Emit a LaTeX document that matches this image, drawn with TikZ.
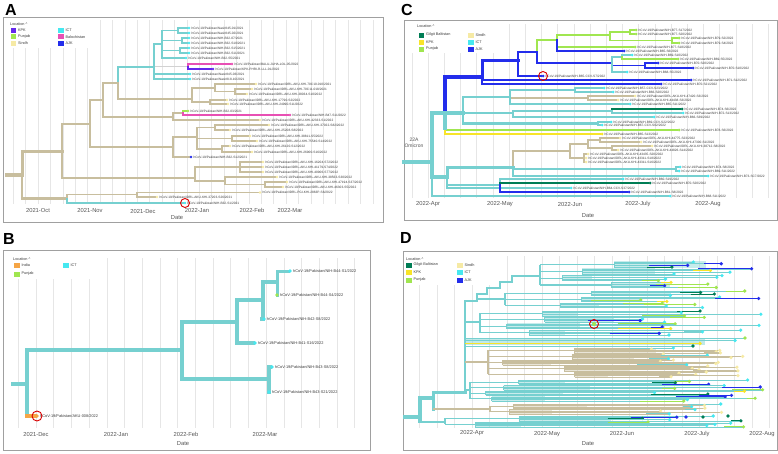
\documentclass[tikz,border=0pt]{standalone}
\usepackage{fontspec}
\setmainfont{Liberation Sans}
\definecolor{tanb}{RGB}{200,190,158}
\definecolor{sindh}{RGB}{246,234,165}
\definecolor{ictb}{RGB}{118,208,208}
\definecolor{ict}{RGB}{70,232,240}
\definecolor{kpkA}{RGB}{100,40,235}
\definecolor{pun}{RGB}{160,230,80}
\definecolor{balo}{RGB}{232,80,180}
\definecolor{ajk}{RGB}{35,45,235}
\definecolor{gb}{RGB}{0,125,85}
\definecolor{kpk}{RGB}{248,228,40}
\definecolor{india}{RGB}{245,165,70}
\definecolor{frameg}{RGB}{160,160,160}
\definecolor{gridg}{RGB}{230,230,230}
\definecolor{dateg}{RGB}{85,85,85}
\definecolor{labelg}{RGB}{60,60,60}
\colorlet{ictL}{ictb}\colorlet{sindhL}{tanb}\colorlet{ajkL}{ajk}
\colorlet{punL}{pun}\colorlet{kpkL}{kpk}\colorlet{gbL}{gb}
\pgfdeclarelayer{gridl}
\pgfdeclarelayer{edges}
\pgfsetlayers{gridl,edges,main}
\newcommand\tip[6]{\node[#1,fill=#5,label={[lbl#1]right:{#6}}] (#2) at (#3,#4) {};}
\newcommand\br[4]{\draw[edge,draw=#1,line width=#2pt] (#3) |- (#4);}
\newcommand\leg[5]{\node[legsq,fill=#4] (#1) at (#2,#3) {}; \node[legtxt] (#1t) at ([xshift=1.5pt]#1.east) {#5};}
\pgfmathdeclarerandomlist{dup}{{ict}{ict}{ict}{ict}{ajk}{ajk}{pun}{pun}{gb}{kpk}}
\pgfmathdeclarerandomlist{dtan}{{sindh}{sindh}{sindh}{sindh}{sindh}{ict}}
\pgfmathdeclarerandomlist{dlow}{{ict}{ict}{ict}{pun}{pun}{kpk}{gb}{ajk}}
\newcommand\dgroup[7]{%
  \pgfmathsetmacro\gfirst{#2+(#4-1)*#5/2}%
  \pgfmathsetmacro\glast{#2+(#3-1)*#4*#5+(#4-1)*#5/2}%
  \draw[draw=#7, line width=1.4pt] (#1,\gfirst) -- (#1,\glast);
  \foreach \k in {1,...,#3}{%
    \pgfmathsetmacro\ya{#2+(\k-1)*#4*#5}%
    \pgfmathsetmacro\yb{\ya+(#4-1)*#5}%
    \pgfmathsetmacro\ym{(\ya+\yb)/2}%
    \pgfmathsetmacro\xa{\gxa+rnd*\gxs}%
    \pgfmathsetmacro\xc{\xa+25+rnd*70}%
    \draw[draw=#7, line width=1.1pt] (#1,\ym) -- (\xa,\ym);
    \draw[draw=#7, opacity=0.4, line width=#4*#5*0.9pt] (\xa,\ym) -- (\xc,\ym);
    \draw[draw=#7, line width=0.8pt] (\xa,\ya) -- (\xa,\yb);
    \foreach \j in {1,...,#4}{%
      \pgfmathsetmacro\yy{\ya+(\j-1)*#5}%
      \pgfmathsetmacro\xb{\gta+rnd*\gts}%
      \pgfmathsetmacro\xd{max(\xa,\xb-8-rnd*50)}%
      \pgfmathrandomitem{\cc}{#6}%
      \edef\lc{\cc L}%
      \draw[draw=#7, line width=0.6pt] (\xa,\yy) -- (\xb,\yy);
      \draw[draw=\lc, line width=0.7pt] (\xd,\yy) -- (\xb,\yy);
      \fill[fill=\cc] (\xb,\yy) circle[radius=1.8pt];
    }%
  }%
}
\begin{document}
\begin{tikzpicture}[x=1pt,y=-1pt,
  edge/.style={line cap=rect},
  frame/.style={draw=frameg,line width=0.9pt},
  gridln/.style={draw=gridg,line width=0.5pt},
  letter/.style={font=\fontsize{16}{16}\selectfont\bfseries},
  datel/.style={font=\fontsize{5.8}{6}\selectfont,text=dateg},
  legsq/.style={rectangle,minimum width=5.5pt,minimum height=5pt,inner sep=0pt},
  legtxt/.style={font=\fontsize{3.8}{4}\selectfont,text=labelg,anchor=west,inner sep=0pt},
  tipdot/.style={circle,inner sep=0pt,draw=none},
  tipA/.style={tipdot,minimum size=2.6pt},
  tipB/.style={tipdot,minimum size=3.6pt},
  tipC/.style={tipdot,minimum size=3pt},
  lbltipA/.style={font=\fontsize{3.2}{3.5}\selectfont,text=labelg,inner sep=0.8pt},
  lbltipB/.style={font=\fontsize{3.9}{4.2}\selectfont,text=labelg,inner sep=1pt},
  lbltipC/.style={font=\fontsize{3.2}{3.5}\selectfont,text=labelg,inner sep=0.8pt},
  redring/.style={circle,draw=red!85!black,line width=0.9pt,minimum size=9pt,inner sep=0pt}]
\useasboundingbox (0,0) rectangle (778,453);
\begin{pgfonlayer}{gridl}
\fill[white] (0,0) rectangle (778,453);
\end{pgfonlayer}

%================ PANEL A ================
\node[letter] (LA) at (11,10) {A};
\begin{pgfonlayer}{gridl}
  \foreach \i in {0,...,29} {\draw[gridln] ({13.2+12.4*\i},20) -- ({13.2+12.4*\i},204);}
  \fill[white] (8,20) rectangle (100,48);
  \draw[frame] (3,17) rectangle (383,222);
\end{pgfonlayer}
\node[legtxt] (locA) at (10,24) {Location \textasciicircum};
\leg{lgA1}{13.5}{30.5}{kpkA}{KPK}
\leg{lgA2}{13.5}{36.8}{pun}{Punjab}
\leg{lgA3}{13.5}{43}{sindh}{Sindh}
\leg{lgA4}{61}{30.5}{ict}{ICT}
\leg{lgA5}{61}{36.8}{balo}{Balochistan}
\leg{lgA6}{61}{43}{ajk}{AJK}
\node[datel] (dA1) at (38,210) {2021-Oct};
\node[datel] (dA2) at (90,210) {2021-Nov};
\node[datel] (dA3) at (143,211) {2021-Dec};
\node[datel] (dA4) at (197,210) {2022-Jan};
\node[datel] (dA5) at (252,210) {2022-Feb};
\node[datel] (dA6) at (290,210) {2022-Mar};
\node[datel] (dA7) at (177,218) {Date};

\coordinate (aS) at (7,175);
\coordinate (A0) at (22,175);
\coordinate (A1) at (62,151);
\coordinate (A2) at (67,198.5);
\coordinate (A3) at (90,124);
\coordinate (A4) at (195,178);
\coordinate (A5) at (103,100);
\coordinate (A6) at (173,147);
\coordinate (A7) at (118,83);
\coordinate (A8) at (173,117);
\coordinate (A9) at (154,67);
\coordinate (A10) at (192,99);
\coordinate (A11) at (162,44);
\coordinate (A12) at (188,66.5);
\coordinate (A13) at (178,30.5);
\coordinate (A14) at (182,40.5);
\coordinate (A15) at (180,50.5);
\coordinate (A16) at (215,88);
\coordinate (A17) at (235,91.5);
\coordinate (A18) at (210,102);
\coordinate (A19) at (183,113);
\coordinate (A20) at (197,137);
\coordinate (A21) at (215,127.5);
\coordinate (A22) at (232,138.5);
\coordinate (A23) at (222,149);
\coordinate (A24) at (240,167);
\coordinate (A25) at (225,181);
\coordinate (A26) at (265,184.5);
\coordinate (A27) at (137,194.5);

\tip{tipA}{a28}{189}{28}{ict}{hCoV-19/Pakistan/Nasir845-01/2021}
\tip{tipA}{a33}{189}{33}{ict}{hCoV-19/Pakistan/Nasir845-02/2021}
\tip{tipA}{a38}{189}{38}{ict}{hCoV-19/Pakistan/NIH-B32-07/2021}
\tip{tipA}{a43}{189}{43}{ict}{hCoV-19/Pakistan/NIH-B32-S10/2021}
\tip{tipA}{a48}{189}{48}{ict}{hCoV-19/Pakistan/NIH-B32-S15/2021}
\tip{tipA}{a53}{189}{53}{ict}{hCoV-19/Pakistan/NIH-B32-S11/2021}
\tip{tipA}{a58}{186}{58}{ict}{hCoV-19/Pakistan/NIH-B32-S5/2021}
\tip{tipA}{a64}{232}{64}{balo}{hCoV-19/Pakistan/BALU-JUHA-LOL-05/2022}
\tip{tipA}{a69}{213}{69}{kpkA}{hCoV-19/Pakistan/KPK-PHRI-R-LLL-01/2022}
\tip{tipA}{a74}{190}{74}{ict}{hCoV-19/Pakistan/Nasir845-03/2021}
\tip{tipA}{a79}{190}{79}{ict}{hCoV-19/Pakistan/Nasir818-10/2021}
\tip{tipA}{a84}{256}{84}{sindh}{hCoV-19/Pakistan/IDRL-AKU-KHI-70C10-010/2021}
\tip{tipA}{a89}{252}{89}{sindh}{hCoV-19/Pakistan/IDRL-AKU-KHI-70C11-018/2021}
\tip{tipA}{a94}{247}{94}{sindh}{hCoV-19/Pakistan/IDRL-AKU-KHI-38034-S10/2022}
\tip{tipA}{a100}{227}{100}{sindh}{hCoV-19/Pakistan/IDRL-AKU-KHI-17790-S2/2022}
\tip{tipA}{a104}{228}{104}{sindh}{hCoV-19/Pakistan/IDRL-AKU-KHI-24990-S11/2022}
\tip{tipA}{a111}{188}{111}{pun}{hCoV-19/Pakistan/NIH-B32-03/2021}
\tip{tipA}{a115}{290}{115}{balo}{hCoV-19/Pakistan/NIH-B47-S11/2022}
\tip{tipA}{a120}{260}{120}{sindh}{hCoV-19/Pakistan/IDRL-AKU-KHI-42333-S1/2022}
\tip{tipA}{a125}{269}{125}{sindh}{hCoV-19/Pakistan/IDRL-AKU-KHI-37022-S82/2022}
\tip{tipA}{a130}{230}{130}{sindh}{hCoV-19/Pakistan/IDRL-AKU-KHI-25208-S8/2022}
\tip{tipA}{a136}{250}{136}{sindh}{hCoV-19/Pakistan/IDRL-AKU-KHI-38811-S5/2022}
\tip{tipA}{a141}{257}{141}{sindh}{hCoV-19/Pakistan/IDRL-AKU-KHI-75540-S14/2022}
\tip{tipA}{a146}{230}{146}{sindh}{hCoV-19/Pakistan/IDRL-AKU-KHI-26120-S12/2022}
\tip{tipA}{a152}{252}{152}{sindh}{hCoV-19/Pakistan/IDRL-AKU-KHI-26900-S16/2022}
\tip{tipA}{a157}{191}{157}{ajk}{hCoV-19/Pakistan/NIH-B32-S12/2021}
\tip{tipA}{a162}{263}{162}{sindh}{hCoV-19/Pakistan/IDRL-AKU-KHI-16204-S72/2022}
\tip{tipA}{a167}{263}{167}{sindh}{hCoV-19/Pakistan/IDRL-AKU-KHI-41179-S74/2022}
\tip{tipA}{a172}{263}{172}{sindh}{hCoV-19/Pakistan/IDRL-AKU-KHI-40906-S77/2022}
\tip{tipA}{a177}{277}{177}{sindh}{hCoV-19/Pakistan/IDRL-AKU-KHI-38563-S30/2022}
\tip{tipA}{a182}{287}{182}{sindh}{hCoV-19/Pakistan/IDRL-AKU-KHI-47194-S37/2022}
\tip{tipA}{a187}{283}{187}{sindh}{hCoV-19/Pakistan/IDRL-AKU-KHI-46303-S5/2022}
\tip{tipA}{a193}{260}{192.5}{sindh}{hCoV-19/Pakistan/IDRL-PGI-KHI-2863P-S6/2022}
\tip{tipA}{a197}{157}{197}{sindh}{hCoV-19/Pakistan/IDRL-AKU-KHI-37203-S26/2021}
\tip{tipA}{a203}{185}{203}{ict}{hCoV-19/Pakistan/NIH-B32-S1/2021}
\node[redring] (ringA) at (a203) {};

\begin{pgfonlayer}{edges}
\draw[edge,draw=tanb,line width=3.2pt] (aS) -- (A0);
\br{tanb}{3}{A0}{A1}
\br{tanb}{2.6}{A0}{A2}
\br{tanb}{2.6}{A1}{A3}
\br{tanb}{2.3}{A1}{A4}
\br{tanb}{2.3}{A3}{A5}
\br{tanb}{2.1}{A3}{A6}
\br{tanb}{2}{A5}{A7}
\br{tanb}{1.8}{A5}{A8}
\br{ictb}{2}{A7}{A9}
\br{tanb}{1.8}{A7}{A10}
\br{ictb}{1.8}{A9}{A11}
\br{gray!35}{1.4}{A9}{A12}
\br{ictb}{1.2}{A9}{a74}
\br{ictb}{1.2}{A9}{a79}
\br{ictb}{1.5}{A11}{A13}
\br{ictb}{1.5}{A11}{A14}
\br{ictb}{1.5}{A11}{A15}
\br{ictb}{1.2}{A11}{a58}
\br{ictb}{1.2}{A13}{a28}
\br{ictb}{1.2}{A13}{a33}
\br{ictb}{1.2}{A14}{a38}
\br{ictb}{1.2}{A14}{a43}
\br{ictb}{1.2}{A15}{a48}
\br{ictb}{1.2}{A15}{a53}
\br{balo}{1.4}{A12}{a64}
\br{kpkA}{1.4}{A12}{a69}
\br{tanb}{1.6}{A10}{A16}
\br{tanb}{1.6}{A10}{A18}
\br{tanb}{1.2}{A16}{a84}
\br{tanb}{1.4}{A16}{A17}
\br{tanb}{1.2}{A17}{a89}
\br{tanb}{1.2}{A17}{a94}
\br{tanb}{1.2}{A18}{a100}
\br{tanb}{1.2}{A18}{a104}
\br{tanb}{1.5}{A8}{A19}
\br{tanb}{1.2}{A8}{a120}
\br{pun}{1.2}{A19}{a111}
\br{balo}{1.4}{A19}{a115}
\br{tanb}{1.8}{A6}{A20}
\br{tanb}{1.2}{A6}{a157}
\br{tanb}{1.5}{A20}{A21}
\br{tanb}{1.5}{A20}{A22}
\br{tanb}{1.5}{A20}{A23}
\br{tanb}{1.2}{A21}{a125}
\br{tanb}{1.2}{A21}{a130}
\br{tanb}{1.2}{A22}{a136}
\br{tanb}{1.2}{A22}{a141}
\br{tanb}{1.2}{A23}{a146}
\br{tanb}{1.2}{A23}{a152}
\br{tanb}{1.6}{A4}{A24}
\br{tanb}{1.6}{A4}{A25}
\br{tanb}{1.2}{A24}{a162}
\br{tanb}{1.2}{A24}{a167}
\br{tanb}{1.2}{A24}{a172}
\br{tanb}{1.2}{A25}{a177}
\br{tanb}{1.4}{A25}{A26}
\br{tanb}{1.2}{A26}{a182}
\br{tanb}{1.2}{A26}{a187}
\br{tanb}{1.8}{A2}{A27}
\br{ictb}{1.8}{A2}{a203}
\br{tanb}{1.2}{A27}{a193}
\br{tanb}{1.2}{A27}{a197}
\end{pgfonlayer}

%================ PANEL B ================
\node[letter] (LB) at (9,239) {B};
\begin{pgfonlayer}{gridl}
  \foreach \i in {0,...,19} {\draw[gridln] ({18.3+17.7*\i},258) -- ({18.3+17.7*\i},428);}
  \fill[white] (10,254) rectangle (90,279);
  \draw[frame] (3,250) rectangle (370,450);
\end{pgfonlayer}
\node[legtxt] (locB) at (13,259) {Location \textasciicircum};
\leg{lgB1}{17}{265}{india}{India}
\leg{lgB2}{17}{274}{pun}{Punjab}
\leg{lgB3}{66}{265}{ict}{ICT}
\node[datel] (dB1) at (36,434) {2021-Dec};
\node[datel] (dB2) at (116,434) {2022-Jan};
\node[datel] (dB3) at (186,434) {2022-Feb};
\node[datel] (dB4) at (265,434) {2022-Mar};
\node[datel] (dB5) at (183,444) {Date};

\coordinate (bS) at (13,384);
\coordinate (B0) at (27,384);
\coordinate (B0b) at (27,416);
\coordinate (B1) at (182,350);
\coordinate (B2) at (237,322);
\coordinate (B3) at (269,379);
\coordinate (B4) at (263,300);
\coordinate (B5) at (277,282);
\tip{tipB}{b271}{290}{271}{ict}{hCoV-19/Pakistan/NIH-B44-S1/2022}
\tip{tipB}{b295}{277}{295}{pun}{hCoV-19/Pakistan/NIH-B44-S4/2022}
\tip{tipB}{b319}{264}{319}{ict}{hCoV-19/Pakistan/NIH-B42-S8/2022}
\tip{tipB}{b343}{255}{343}{ict}{hCoV-19/Pakistan/NIH-B41-S16/2022}
\tip{tipB}{b367}{272}{367}{ict}{hCoV-19/Pakistan/NIH-B43-S8/2022}
\tip{tipB}{b392}{269}{392}{ict}{hCoV-19/Pakistan/NIH-B43-S21/2022}
\tip{tipB}{b416}{37}{416}{india}{hCoV-19/Pakistan/AKU-008/2022}
\node[redring,minimum size=10pt] (ringB) at (b416) {};
\begin{pgfonlayer}{edges}
\draw[edge,draw=ictb,line width=4.5pt] (bS) -- (B0);
\br{ictb}{4.5}{B0}{B1}
\draw[edge,draw=ictb,line width=3.6pt] (B0) -- (B0b);
\draw[edge,draw=india,line width=3.2pt] (B0b) -- (b416);
\br{ictb}{4.2}{B1}{B2}
\br{ictb}{4.2}{B1}{B3}
\br{ictb}{3.8}{B2}{B4}
\br{ictb}{3.4}{B2}{b343}
\br{ictb}{3.4}{B4}{B5}
\br{ictb}{3.2}{B4}{b319}
\br{ictb}{3}{B5}{b271}
\br{ictb}{3}{B5}{b295}
\br{ictb}{3.2}{B3}{b367}
\br{ictb}{3.2}{B3}{b392}
\end{pgfonlayer}

%================ PANEL C ================
\node[letter] (LC) at (407,10) {C};
\begin{pgfonlayer}{gridl}
  \foreach \i in {0,...,22} {\draw[gridln] ({411.8+16.2*\i},24) -- ({411.8+16.2*\i},198);}
  \fill[white] (412,22) rectangle (505,53);
  \draw[frame] (404,20) rectangle (777,220);
\end{pgfonlayer}
\node[legtxt] (locC) at (417,26) {Location \textasciicircum};
\leg{lgC1}{421.5}{35}{gb}{Gilgit Baltistan}
\leg{lgC2}{421.5}{42}{kpk}{KPK}
\leg{lgC3}{421.5}{49}{pun}{Punjab}
\leg{lgC4}{471}{35}{sindh}{Sindh}
\leg{lgC5}{471}{42}{ict}{ICT}
\leg{lgC6}{471}{49}{ajk}{AJK}
\node[datel] (dC1) at (428,204) {2022-Apr};
\node[datel] (dC2) at (500,204) {2022-May};
\node[datel] (dC3) at (570,204) {2022-Jun};
\node[datel] (dC4) at (638,204) {2022-July};
\node[datel] (dC5) at (708,204) {2022-Aug};
\node[datel] (dC6) at (588,216) {Date};
\node[font=\fontsize{5}{6}\selectfont,text=dateg,align=center] (omi) at (414,143) {22A\\[0.5pt]Omicron};

\coordinate (cS) at (404,162);
\coordinate (C0) at (432,162);
\coordinate (Cu) at (445,113);
\coordinate (Cl) at (447,177);
\coordinate (Cbl) at (482,77);
\coordinate (Ccy) at (463,113);
\coordinate (Cb1) at (518,60);
\coordinate (Cb2) at (537,52);
\coordinate (Ga) at (557,40);
\coordinate (Gb) at (610,35);
\coordinate (Gc) at (630,32);
\coordinate (Gd) at (672,40.5);
\coordinate (Hb) at (612,63);
\coordinate (Hc) at (622,57);
\coordinate (Hd) at (645,65.5);
\coordinate (C1) at (510,97);
\coordinate (Ca) at (575,90);
\coordinate (Ct) at (588,98);
\coordinate (C2) at (513,113);
\coordinate (Cc) at (612,111);
\coordinate (C3) at (598,123.5);
\coordinate (Cm) at (513,167);
\coordinate (T1) at (570,151);
\coordinate (T2) at (588,144);
\coordinate (T4) at (600,140);
\coordinate (T5) at (612,148);
\coordinate (T3) at (584,158);
\coordinate (Co) at (676,169);
\coordinate (Cn) at (500,185);

\tip{tipC}{c30}{636}{30}{pun}{hCoV-19/Pakistan/NIH-B77-S17/2022}
\tip{tipC}{c34}{636}{34}{pun}{hCoV-19/Pakistan/NIH-B77-S20/2022}
\tip{tipC}{c38}{679}{38}{pun}{hCoV-19/Pakistan/NIH-B79-S2/2022}
\tip{tipC}{c43}{679}{43}{pun}{hCoV-19/Pakistan/NIH-B79-S4/2022}
\tip{tipC}{c47}{635}{47}{pun}{hCoV-19/Pakistan/NIH-B77-S18/2022}
\tip{tipC}{c51}{624}{51}{ajk}{hCoV-19/Pakistan/NIH-B65-S6/2022}
\tip{tipC}{c55}{632}{55}{ict}{hCoV-19/Pakistan/NIH-B69-S10/2022}
\tip{tipC}{c59}{678}{59}{pun}{hCoV-19/Pakistan/NIH-B69-S5/2022}
\tip{tipC}{c63}{658}{63}{ajk}{hCoV-19/Pakistan/NIH-B70-S20/2022}
\tip{tipC}{c68}{693}{68}{ajk}{hCoV-19/Pakistan/NIH-B70-S10/2022}
\tip{tipC}{c72}{627}{72}{ict}{hCoV-19/Pakistan/NIH-B68-S5/2022}
\tip{tipC}{c76}{543}{76}{ajk}{hCoV-19/Pakistan/NIH-B65-CCV-S7/2022}
\tip{tipC}{c80}{691}{80}{ajk}{hCoV-19/Pakistan/NIH-B71-S12/2022}
\tip{tipC}{c84}{661}{84}{ajk}{hCoV-19/Pakistan/NIH-B70-S21/2022}
\tip{tipC}{c88}{604}{88}{ict}{hCoV-19/Pakistan/NIH-B57-CCV-S23/2022}
\tip{tipC}{c92}{613}{92}{ict}{hCoV-19/Pakistan/NIH-B66-S20/2022}
\tip{tipC}{c96}{635}{96}{sindh}{hCoV-19/Pakistan/IDRL-AKU-KHI-47420-S3/2022}
\tip{tipC}{c100}{618}{100}{sindh}{hCoV-19/Pakistan/IDRL-AKU-KHI-44438-S3/2022}
\tip{tipC}{c104}{630}{104}{ict}{hCoV-19/Pakistan/NIH-B65-S11/2022}
\tip{tipC}{c109}{682}{109}{gb}{hCoV-19/Pakistan/NIH-B74-S6/2022}
\tip{tipC}{c113}{683}{113}{ict}{hCoV-19/Pakistan/NIH-B72-S13/2022}
\tip{tipC}{c117}{654}{117}{ict}{hCoV-19/Pakistan/NIH-B66-S39/2022}
\tip{tipC}{c122}{611}{122}{ict}{hCoV-19/Pakistan/NIH-B69-CCV-S22/2022}
\tip{tipC}{c125}{602}{125}{ict}{hCoV-19/Pakistan/NIH-B67-CCV-S02/2022}
\tip{tipC}{c130}{679}{130}{pun}{hCoV-19/Pakistan/NIH-B78-S6/2022}
\tip{tipC}{c134}{602}{134}{kpk}{hCoV-19/Pakistan/NIH-B65-S13/2022}
\tip{tipC}{c138}{620}{138}{sindh}{hCoV-19/Pakistan/IDRL-AKU-KHI-44775-S23/2022}
\tip{tipC}{c142}{641}{142}{sindh}{hCoV-19/Pakistan/IDRL-AKU-KHI-47300-S1/2022}
\tip{tipC}{c146}{652}{146}{sindh}{hCoV-19/Pakistan/IDRL-AKU-KHI-38712-S8/2022}
\tip{tipC}{c150}{618}{150}{sindh}{hCoV-19/Pakistan/IDRL-AKU-KHI-44826-S14/2022}
\tip{tipC}{c154}{588}{154}{sindh}{hCoV-19/Pakistan/IDRL-AKU-KHI-43435-S20/2022}
\tip{tipC}{c158}{586}{158}{sindh}{hCoV-19/Pakistan/IDRL-AKU-KHI-43311-S18/2022}
\tip{tipC}{c162}{586}{162}{sindh}{hCoV-19/Pakistan/IDRL-AKU-KHI-43311-S16/2022}
\tip{tipC}{c167}{680}{167}{ict}{hCoV-19/Pakistan/NIH-B74-S8/2022}
\tip{tipC}{c171}{679}{171}{ict}{hCoV-19/Pakistan/NIH-B69-S11/2022}
\tip{tipC}{c176}{708}{176}{ict}{hCoV-19/Pakistan/NIH-B73-SC7/2022}
\tip{tipC}{c179}{623}{179}{ict}{hCoV-19/Pakistan/NIH-B60-S19/2022}
\tip{tipC}{c183}{650}{183}{gb}{hCoV-19/Pakistan/NIH-B70-S20/2022}
\tip{tipC}{c188}{571}{188}{ict}{hCoV-19/Pakistan/NIH-B64-CCV-S37/2022}
\tip{tipC}{c192}{629}{192}{ajk}{hCoV-19/Pakistan/NIH-B61-S8/2022}
\tip{tipC}{c196}{670}{196}{ict}{hCoV-19/Pakistan/NIH-B68-S11/2022}
\node[redring] (ringC) at (c76) {};

\begin{pgfonlayer}{edges}
\draw[edge,draw=ictb,line width=4.5pt] (cS) -- (C0);
\br{ictb}{4}{C0}{Cu}
\br{ictb}{3.6}{C0}{Cl}
\br{ictb}{2}{C0}{c196}
\br{pun}{2}{Cu}{c130}
\br{kpk}{2}{Cu}{c134}
\draw[edge,draw=ictb,line width=3.5pt] (Cu) -- (445,128);
\br{ajk}{3.5}{Cu}{Cbl}
\br{ictb}{3.2}{Cu}{Ccy}
\br{ajk}{3}{Cbl}{Cb1}
\br{ajk}{1.8}{Cbl}{c80}
\br{ajk}{1.8}{Cbl}{c84}
\br{ajk}{2.6}{Cb1}{Cb2}
\br{ajk}{2}{Cb1}{c76}
\br{pun}{2.3}{Cb2}{Ga}
\br{ajk}{2.3}{Cb2}{Hb}
\br{pun}{2}{Ga}{Gb}
\br{pun}{1.5}{Ga}{c47}
\br{ajk}{1.5}{Ga}{c51}
\br{pun}{1.6}{Gb}{Gc}
\br{pun}{1.6}{Gb}{Gd}
\br{pun}{1.2}{Gc}{c30}
\br{pun}{1.2}{Gc}{c34}
\br{pun}{1.2}{Gd}{c38}
\br{pun}{1.2}{Gd}{c43}
\br{ictb}{1.8}{Hb}{Hc}
\br{ajk}{1.8}{Hb}{Hd}
\br{ictb}{1.4}{Hb}{c72}
\br{ictb}{1.2}{Hc}{c55}
\br{pun}{1.2}{Hc}{c59}
\br{ajk}{1.2}{Hd}{c63}
\br{ajk}{1.2}{Hd}{c68}
\br{ictb}{2.6}{Ccy}{C1}
\br{ictb}{2.4}{Ccy}{C2}
\br{ictb}{2.2}{Ccy}{C3}
\br{ictb}{2}{C1}{Ca}
\br{tanb}{2}{C1}{Ct}
\br{ictb}{1.5}{C1}{c104}
\br{ictb}{1.3}{Ca}{c88}
\br{ictb}{1.3}{Ca}{c92}
\br{tanb}{1.3}{Ct}{c96}
\br{tanb}{1.3}{Ct}{c100}
\br{ictb}{1.8}{C2}{Cc}
\br{ictb}{1.5}{C2}{c117}
\br{gb}{1.4}{Cc}{c109}
\br{ictb}{1.3}{Cc}{c113}
\br{ictb}{1.3}{C3}{c122}
\br{ictb}{1.3}{C3}{c125}
\br{ictb}{3}{Cl}{Cm}
\br{ictb}{2.6}{Cl}{Cn}
\br{ictb}{2}{Cl}{c188}
\br{tanb}{2.5}{Cm}{T1}
\br{ictb}{2}{Cm}{Co}
\br{ictb}{1.8}{Cm}{c176}
\br{tanb}{2}{T1}{T2}
\br{tanb}{2}{T1}{T3}
\br{tanb}{1.6}{T2}{T4}
\br{tanb}{1.6}{T2}{T5}
\br{tanb}{1.2}{T4}{c138}
\br{tanb}{1.2}{T4}{c142}
\br{tanb}{1.2}{T5}{c146}
\br{tanb}{1.2}{T5}{c150}
\br{tanb}{1.2}{T3}{c154}
\br{tanb}{1.2}{T3}{c158}
\br{tanb}{1.2}{T3}{c162}
\br{ictb}{1.3}{Co}{c167}
\br{ictb}{1.3}{Co}{c171}
\br{ictb}{1.5}{Cn}{c179}
\br{gb}{1.5}{Cn}{c183}
\br{ajk}{1.5}{Cn}{c192}
\end{pgfonlayer}

%================ PANEL D ================
\node[letter] (LD) at (406,238) {D};
\begin{pgfonlayer}{gridl}
  \foreach \i in {0,...,20} {\draw[gridln] ({419.5+17.5*\i},256) -- ({419.5+17.5*\i},428);}
  \fill[white] (404,254) rectangle (500,285);
  \draw[frame] (403,251) rectangle (777,450);
\end{pgfonlayer}
\node[legtxt] (locD) at (406,259) {Location \textasciicircum};
\leg{lgD1}{409}{265}{gb}{Gilgit Baltistan}
\leg{lgD2}{409}{272.5}{kpk}{KPK}
\leg{lgD3}{409}{280}{pun}{Punjab}
\leg{lgD4}{460}{265}{sindh}{Sindh}
\leg{lgD5}{460}{272.5}{ict}{ICT}
\leg{lgD6}{460}{280}{ajk}{AJK}
\node[datel] (dD1) at (472,433) {2022-Apr};
\node[datel] (dD2) at (547,434) {2022-May};
\node[datel] (dD3) at (622,433) {2022-Jun};
\node[datel] (dD4) at (697,434) {2022-July};
\node[datel] (dD5) at (762,434) {2022-Aug};
\node[datel] (dD6) at (588,444) {Date};

\pgfmathsetseed{11}
\begin{pgfonlayer}{edges}
\draw[draw=ictb,line width=4.5pt] (403,417) -- (420,417);
\draw[edge,draw=ictb,line width=3.4pt] (420,398) -- (420,421.6);
\draw[edge,draw=ictb,line width=3.2pt] (420,398) -- (433,398);
\draw[edge,draw=ictb,line width=3pt] (433,392) -- (433,409);
\draw[edge,draw=ictb,line width=3pt] (433,392) -- (465,392);
\draw[edge,draw=ictb,line width=2.6pt] (465,301) -- (465,392);
\draw[edge,draw=ictb,line width=2pt] (465,301) -| (477,294) -| (487,288) -| (500,282) -| (512,276) -- (540,276);
\draw[draw=ictb,line width=1.8pt] (477,299) -- (505,299);
\draw[draw=ictb,line width=1.8pt] (465,322) -- (480,322);
\draw[draw=tanb,line width=2.2pt] (465,362) -- (488,362);
\draw[draw=ictb,line width=1.8pt] (465,390) -- (470,390);
\draw[draw=tanb,line width=2pt] (433,409) -- (490,409);
\draw[draw=ictb,line width=2pt] (420,421.6) -- (445,421.6);
% thick band
\draw[draw=ictb,opacity=0.45,line width=6pt] (465,341.5) -- (705,341.5);
\draw[draw=ictb,line width=1pt] (465,338) -- (745,338);
\draw[draw=ictb,line width=1pt] (465,340.5) -- (735,340.5);
\draw[draw=kpk,line width=1pt] (465,343.5) -- (700,343.5);
\draw[draw=ictb,line width=1pt] (465,346) -- (693,346);
\fill[fill=pun] (745,338) circle[radius=1.8pt];
\fill[fill=ict] (735,340.5) circle[radius=1.8pt];
\fill[fill=kpk] (700,343.5) circle[radius=1.8pt];
\fill[fill=gb] (693,346) circle[radius=1.8pt];
\def\gxa{555}\def\gxs{90}\def\gta{650}\def\gts{123}
\dgroup{540}{262}{4}{4}{1.7}{dup}{ictb}
\def\gxa{530}\def\gxs{100}\def\gta{640}\def\gts{130}
\dgroup{505}{291}{3}{4}{1.5}{dup}{ictb}
\def\gxa{505}\def\gxs{120}\def\gta{640}\def\gts{125}
\dgroup{480}{311}{4}{4}{1.6}{dup}{ictb}
\def\gxa{495}\def\gxs{100}\def\gta{650}\def\gts{95}
\dgroup{488}{348}{5}{5}{1.2}{dtan}{tanb}
\def\gxa{485}\def\gxs{130}\def\gta{640}\def\gts{130}
\dgroup{470}{380}{4}{4}{1.4}{dlow}{ictb}
\def\gxa{500}\def\gxs{60}\def\gta{660}\def\gts{80}
\dgroup{490}{404}{2}{4}{1.4}{dtan}{tanb}
\def\gxa{470}\def\gxs{90}\def\gta{640}\def\gts{133}
\dgroup{445}{416}{2}{5}{1.2}{dlow}{ictb}
\end{pgfonlayer}
\fill[fill=ajk] (686,417) circle[radius=1.8pt];
\fill[fill=gb] (703,417) circle[radius=1.8pt];
\fill[fill=gb] (728,416) circle[radius=1.8pt];
\fill[fill=pun] (594,324) circle[radius=2pt];
\node[redring] (ringD) at (594,324) {};
\end{tikzpicture}
\end{document}
